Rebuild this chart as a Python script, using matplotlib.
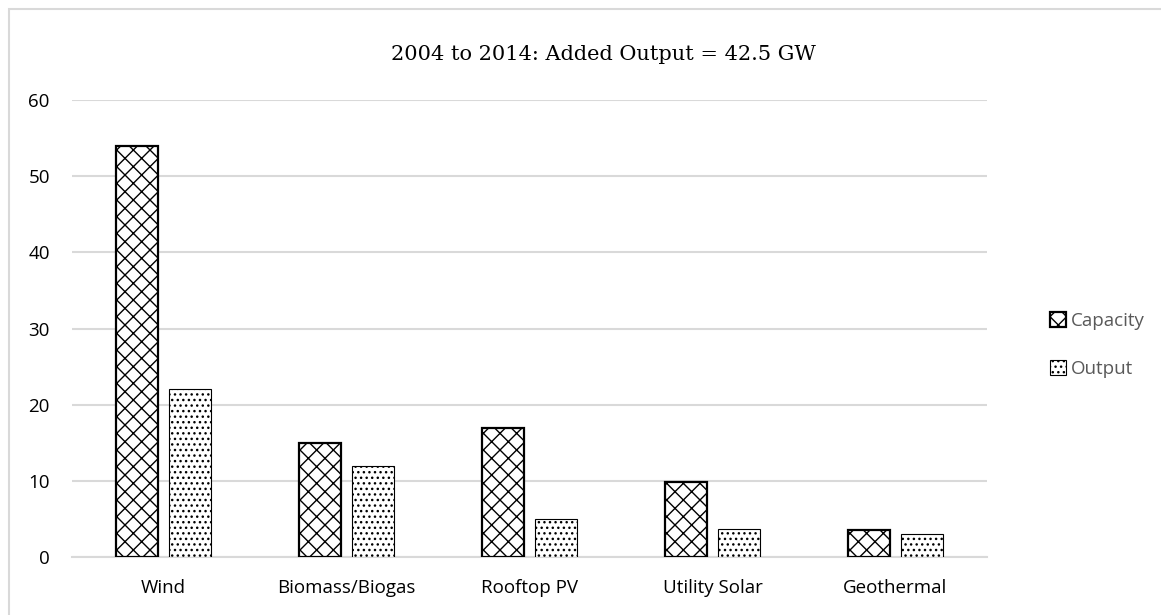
import numpy as np
import matplotlib.pyplot as plt
from matplotlib.patches import Rectangle

# Data
categories = ['Wind', 'Biomass/Biogas', 'Rooftop PV', 'Utility Solar', 'Geothermal']
capacity = [54, 15, 17, 9.8, 3.5]
output = [22, 12, 5, 3.7, 3.0]
title = '2004 to 2014: Added Output = 42.5 GW'

plt.rcParams['hatch.linewidth'] = 1.0

fig = plt.figure(figsize=(11.61, 6.15), dpi=100)
ax = fig.add_axes([72 / 1161, 1 - 557 / 615, (987 - 72) / 1161, (557 - 100) / 615])

x = np.arange(len(categories))
w = 0.23
off = 0.143
ax.bar(x - off, capacity, w, facecolor='white', edgecolor='black',
       hatch='xx', linewidth=1.6, label='Capacity', zorder=3)
ax.bar(x + off, output, w, facecolor='white', edgecolor='black',
       hatch='...', linewidth=0.8, label='Output', zorder=3)

ax.set_xlim(-0.5, len(categories) - 0.5)
ax.set_ylim(0, 60)
ax.set_yticks(range(0, 61, 10))
ax.set_xticks(x)
ax.set_xticklabels(categories)
ax.grid(axis='y', color='#d9d9d9', linewidth=1.5, zorder=0)
for s in ['top', 'right', 'left']:
    ax.spines[s].set_visible(False)
ax.spines['bottom'].set_color('#d9d9d9')
ax.spines['bottom'].set_linewidth(1.5)
ax.tick_params(length=0, labelsize=13.5, colors='black')
ax.tick_params(axis='x', pad=16)
ax.tick_params(axis='y', pad=16)
for lab in ax.get_xticklabels() + ax.get_yticklabels():
    lab.set_fontfamily('Open Sans')

fig.text(603 / 1161, 1 - 55 / 615, title, ha='center', va='center',
         fontsize=15, family='DejaVu Serif')

leg = ax.legend(loc='center left', bbox_to_anchor=(1.05, 0.463), frameon=False,
                handlelength=0.85, handleheight=0.85, handletextpad=0.3,
                labelspacing=1.6, prop={'family': 'Open Sans', 'size': 13.5})
for t in leg.get_texts():
    t.set_color('#595959')

# light frame around the chart area
fig.patches.append(Rectangle((9 / 1161, -0.1), 1.2, 1 - 9 / 615 + 0.1,
                             transform=fig.transFigure, fill=False,
                             edgecolor='#d9d9d9', linewidth=1.5))

fig.savefig('out.png', dpi=100)
